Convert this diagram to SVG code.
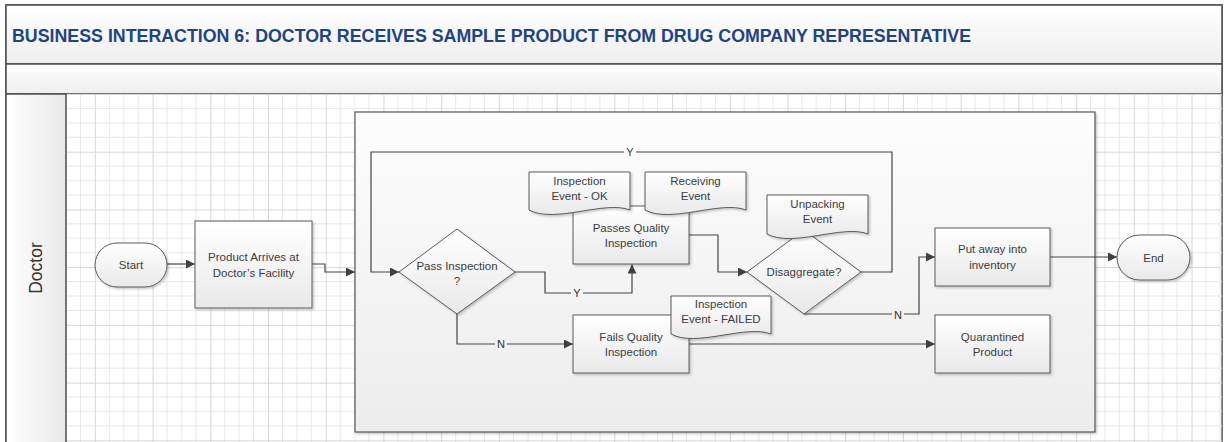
<svg xmlns="http://www.w3.org/2000/svg" width="1229" height="442" viewBox="0 0 1229 442">
<style>
.shape{stroke:#5a5a5a;stroke-width:1;fill:url(#shapeFill);filter:url(#shadow)}
.t{font-family:"Liberation Sans",Arial,sans-serif;font-size:11.5px;fill:#3c3c3c;text-anchor:middle}
.conn{fill:none;stroke:#454545;stroke-width:1.2}
.lbl{font-family:"Liberation Sans",Arial,sans-serif;font-size:11px;fill:#333;text-anchor:middle}
</style>
<defs>
<linearGradient id="shapeFill" x1="0" y1="0" x2="0" y2="1"><stop offset="0" stop-color="#ffffff"/><stop offset="1" stop-color="#e9e9e9"/></linearGradient>
<linearGradient id="contFill" x1="0" y1="0" x2="0" y2="1"><stop offset="0" stop-color="#fdfdfd"/><stop offset="1" stop-color="#ececec"/></linearGradient>
<linearGradient id="bandFill" x1="0" y1="0" x2="0" y2="1"><stop offset="0" stop-color="#ffffff"/><stop offset="1" stop-color="#eeeeee"/></linearGradient>
<linearGradient id="laneFill" x1="0" y1="0" x2="1" y2="0"><stop offset="0" stop-color="#ffffff"/><stop offset="1" stop-color="#e8e8e8"/></linearGradient>
<filter id="shadow" x="-10%" y="-10%" width="130%" height="130%"><feDropShadow dx="1.5" dy="1.5" stdDeviation="1" flood-color="#000" flood-opacity="0.22"/></filter>
<pattern id="grid" x="37.14" y="94" width="57.72" height="57.72" patternUnits="userSpaceOnUse">
<path d="M14.43 0V57.72M28.86 0V57.72M43.29 0V57.72M0 14.43H57.72M0 28.86H57.72M0 43.29H57.72" stroke="#e7e7e7" stroke-width="1" fill="none"/>
<path d="M0.5 0V57.72M0 0.5H57.72" stroke="#d6d6d6" stroke-width="1" fill="none"/>
</pattern>
<marker id="arr" viewBox="0 0 10 10" refX="10" refY="5" markerWidth="9" markerHeight="9" markerUnits="userSpaceOnUse" orient="auto"><path d="M0 0L10 5L0 10Z" fill="#404040"/></marker>
</defs>

<g id="pool">
<rect x="6" y="5" width="1216" height="440" fill="#ffffff" stroke="#4d4d4d" stroke-width="1.5"/>
<rect x="6" y="5" width="1216" height="59" fill="url(#bandFill)" stroke="#4d4d4d" stroke-width="1.5"/>
<rect x="6" y="64" width="1216" height="30" fill="url(#bandFill)" stroke="#4d4d4d" stroke-width="1.5"/>
<rect x="66" y="94" width="1156" height="350" fill="url(#grid)"/>
<rect x="6" y="94" width="60" height="350" fill="url(#laneFill)" stroke="#4d4d4d" stroke-width="1.5"/>
<text x="12" y="42" font-family="'Liberation Sans',Arial,sans-serif" font-size="17.5" font-weight="bold" fill="#1f4482" textLength="959" lengthAdjust="spacingAndGlyphs">BUSINESS INTERACTION 6: DOCTOR RECEIVES SAMPLE PRODUCT FROM DRUG COMPANY REPRESENTATIVE</text>
<text x="0" y="0" transform="translate(42,268) rotate(-90)" font-family="'Liberation Sans',Arial,sans-serif" font-size="17.5" fill="#333" text-anchor="middle">Doctor</text>
</g>

<g id="container">
<rect x="355" y="112" width="740" height="320" fill="url(#contFill)" stroke="#555" stroke-width="1.2" filter="url(#shadow)"/>
</g>

<g id="connectors">
<path class="conn" d="M167 264H195" marker-end="url(#arr)"/>
<path class="conn" d="M312 264H325V272H355" marker-end="url(#arr)"/>
<path class="conn" d="M515 272H545V293H632V264.5" marker-end="url(#arr)"/>
<path class="conn" d="M457 314V344H573" marker-end="url(#arr)"/>
<path class="conn" d="M689 235H718V272H747" marker-end="url(#arr)"/>
<path class="conn" d="M861 272H892V152H371V272H399" marker-end="url(#arr)"/>
<path class="conn" d="M804 314H919V257H935" marker-end="url(#arr)"/>
<path class="conn" d="M689 344H935" marker-end="url(#arr)"/>
<path class="conn" d="M1050 257H1117" marker-end="url(#arr)"/>
<rect x="624" y="146" width="12" height="12" fill="#fbfbfb"/>
<text class="lbl" x="630" y="156">Y</text>
<rect x="571" y="287" width="12" height="12" fill="#f4f4f4"/>
<text class="lbl" x="577" y="297">Y</text>
<rect x="495" y="338" width="12" height="12" fill="#f1f1f1"/>
<text class="lbl" x="501" y="348">N</text>
<rect x="892" y="309" width="12" height="12" fill="#f2f2f2"/>
<text class="lbl" x="898" y="319">N</text>
</g>

<g id="start">
<rect class="shape" x="95" y="243" width="72" height="44" rx="22" ry="22"/>
<text class="t" x="131" y="269">Start</text>
</g>

<g id="product-arrives">
<rect class="shape" x="195" y="221" width="117" height="87"/>
<text class="t" x="253.5" y="260.5">Product Arrives at</text>
<text class="t" x="253.5" y="276.5">Doctor’s Facility</text>
</g>

<g id="pass-inspection">
<path class="shape" d="M457 229L515 272L457 314L399 272Z"/>
<text class="t" x="457" y="270">Pass Inspection</text>
<text class="t" x="457" y="285">?</text>
</g>

<g id="passes-quality">
<rect class="shape" x="573" y="206" width="116" height="58"/>
<text class="t" x="631" y="231.5">Passes Quality</text>
<text class="t" x="631" y="246.5">Inspection</text>
</g>

<g id="inspection-ok">
<path class="shape" d="M529 172H630V210C605 200 555 224 529 210Z"/>
<text class="t" x="579.5" y="184.5">Inspection</text>
<text class="t" x="579.5" y="199.5">Event - OK</text>
</g>

<g id="receiving-event">
<path class="shape" d="M645 172H746V210C721 200 671 224 645 210Z"/>
<text class="t" x="695.5" y="184.5">Receiving</text>
<text class="t" x="695.5" y="199.5">Event</text>
</g>

<g id="disaggregate">
<path class="shape" d="M804 230L861 272L804 314L747 272Z"/>
<text class="t" x="804" y="276">Disaggregate?</text>
</g>

<g id="unpacking-event">
<path class="shape" d="M767 195H868V234C843 224 793 248 767 234Z"/>
<text class="t" x="817.5" y="208">Unpacking</text>
<text class="t" x="817.5" y="223">Event</text>
</g>

<g id="fails-quality">
<rect class="shape" x="573" y="315" width="116" height="58"/>
<text class="t" x="631" y="341">Fails Quality</text>
<text class="t" x="631" y="356">Inspection</text>
</g>

<g id="inspection-failed">
<path class="shape" d="M671 296H771V334C746 324 696 348 671 334Z"/>
<text class="t" x="721" y="308">Inspection</text>
<text class="t" x="721" y="323">Event - FAILED</text>
</g>

<g id="put-away">
<rect class="shape" x="935" y="228" width="115" height="58"/>
<text class="t" x="992.5" y="253">Put away into</text>
<text class="t" x="992.5" y="269">inventory</text>
</g>

<g id="quarantined">
<rect class="shape" x="935" y="315" width="115" height="58"/>
<text class="t" x="992.5" y="341">Quarantined</text>
<text class="t" x="992.5" y="356">Product</text>
</g>

<g id="end">
<rect class="shape" x="1117" y="235" width="73" height="45" rx="22.5" ry="22.5"/>
<text class="t" x="1153.5" y="261.5">End</text>
</g>
</svg>
